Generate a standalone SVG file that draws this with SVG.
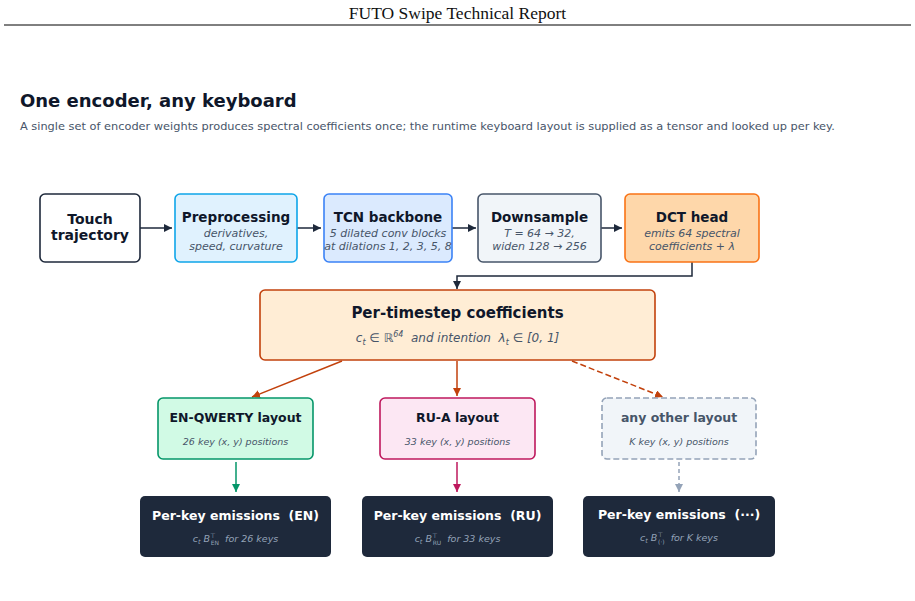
<svg xmlns="http://www.w3.org/2000/svg" width="915" height="601" viewBox="0 0 915 601">
<style>
  .hdr{font-family:"Liberation Serif","DejaVu Serif",serif;font-size:17.5px;fill:#111;}
  .ttl{font-family:"DejaVu Sans",sans-serif;font-weight:bold;font-size:18px;fill:#0f172a;}
  .sub{font-family:"DejaVu Sans",sans-serif;font-size:11.35px;fill:#475569;}
  .nt{font-family:"DejaVu Sans",sans-serif;font-weight:bold;font-size:13.5px;fill:#0f172a;text-anchor:middle;}
  .ns{font-family:"DejaVu Sans",sans-serif;font-style:italic;font-size:11px;fill:#475569;text-anchor:middle;}
  .lt{font-family:"DejaVu Sans",sans-serif;font-weight:bold;font-size:12.5px;fill:#0f172a;text-anchor:middle;}
  .ls{font-family:"DejaVu Sans",sans-serif;font-style:italic;font-size:9.5px;fill:#475569;text-anchor:middle;}
  .et{font-family:"DejaVu Sans",sans-serif;font-weight:bold;font-size:12.5px;fill:#ffffff;text-anchor:middle;white-space:pre;}
  .es{font-family:"DejaVu Sans",sans-serif;font-style:italic;font-size:9.5px;fill:#94a3b8;text-anchor:middle;white-space:pre;}
  .box{stroke-width:1.6;}
  .c{fill:none;stroke-width:1.5;}
</style>
<defs>
  <marker id="ad" markerUnits="userSpaceOnUse" markerWidth="10" markerHeight="10" refX="8" refY="4" orient="auto"><path d="M0,0 L8,4 L0,8 z" fill="#1e293b"/></marker>
  <marker id="ao" markerUnits="userSpaceOnUse" markerWidth="10" markerHeight="10" refX="8" refY="4" orient="auto"><path d="M0,0 L8,4 L0,8 z" fill="#c2410c"/></marker>
  <marker id="ag" markerUnits="userSpaceOnUse" markerWidth="10" markerHeight="10" refX="8" refY="4" orient="auto"><path d="M0,0 L8,4 L0,8 z" fill="#059669"/></marker>
  <marker id="ap" markerUnits="userSpaceOnUse" markerWidth="10" markerHeight="10" refX="8" refY="4" orient="auto"><path d="M0,0 L8,4 L0,8 z" fill="#be185d"/></marker>
  <marker id="ay" markerUnits="userSpaceOnUse" markerWidth="10" markerHeight="10" refX="8" refY="4" orient="auto"><path d="M0,0 L8,4 L0,8 z" fill="#94a3b8"/></marker>
</defs>
<rect width="915" height="601" fill="#ffffff"/>
<text class="hdr" x="457.5" y="19" text-anchor="middle">FUTO Swipe Technical Report</text>
<line x1="4" y1="25" x2="911" y2="25" stroke="#000" stroke-width="1"/>
<text class="ttl" x="20" y="107">One encoder, any keyboard</text>
<text class="sub" x="20" y="130">A single set of encoder weights produces spectral coefficients once; the runtime keyboard layout is supplied as a tensor and looked up per key.</text>

<g id="connectors">
  <line class="c" x1="140" y1="228" x2="172" y2="228" stroke="#1e293b" marker-end="url(#ad)"/>
  <line class="c" x1="297" y1="228" x2="321" y2="228" stroke="#1e293b" marker-end="url(#ad)"/>
  <line class="c" x1="452" y1="228" x2="476" y2="228" stroke="#1e293b" marker-end="url(#ad)"/>
  <line class="c" x1="601" y1="228" x2="622" y2="228" stroke="#1e293b" marker-end="url(#ad)"/>
  <polyline class="c" points="692,262 692,276 457,276 457,289" stroke="#1e293b" marker-end="url(#ad)"/>
  <line class="c" x1="342" y1="361" x2="252" y2="397" stroke="#c2410c" marker-end="url(#ao)"/>
  <line class="c" x1="457" y1="361" x2="457" y2="396" stroke="#c2410c" marker-end="url(#ao)"/>
  <line class="c" x1="572" y1="361" x2="663" y2="397" stroke="#c2410c" stroke-dasharray="6,3" marker-end="url(#ao)"/>
  <line class="c" x1="236" y1="462" x2="236" y2="492" stroke="#059669" marker-end="url(#ag)"/>
  <line class="c" x1="457" y1="462" x2="457" y2="492" stroke="#be185d" marker-end="url(#ap)"/>
  <line class="c" x1="679" y1="462" x2="679" y2="492" stroke="#94a3b8" stroke-dasharray="4,3" marker-end="url(#ay)"/>
</g>

<g id="touch">
  <rect class="box" x="40" y="194" width="100" height="68" rx="5" fill="#ffffff" stroke="#1e293b"/>
  <text class="nt" x="90" y="224" style="font-size:14px">Touch</text>
  <text class="nt" x="90" y="240" style="font-size:14px">trajectory</text>
</g>
<g id="preprocessing">
  <rect class="box" x="175" y="194" width="122" height="68" rx="5" fill="#e0f2fe" stroke="#0ea5e9"/>
  <text class="nt" x="236" y="222">Preprocessing</text>
  <text class="ns" x="236" y="237">derivatives,</text>
  <text class="ns" x="236" y="250">speed, curvature</text>
</g>
<g id="tcn">
  <rect class="box" x="324" y="194" width="128" height="68" rx="5" fill="#dbeafe" stroke="#3b82f6"/>
  <text class="nt" x="388" y="222">TCN backbone</text>
  <text class="ns" x="388" y="237">5 dilated conv blocks</text>
  <text class="ns" x="388" y="250">at dilations 1, 2, 3, 5, 8</text>
</g>
<g id="downsample">
  <rect class="box" x="478" y="194" width="123" height="68" rx="5" fill="#f1f5f9" stroke="#475569"/>
  <text class="nt" x="539.5" y="222">Downsample</text>
  <text class="ns" x="539.5" y="237">T = 64 → 32,</text>
  <text class="ns" x="539.5" y="250">widen 128 → 256</text>
</g>
<g id="dct">
  <rect class="box" x="625" y="194" width="134" height="68" rx="5" fill="#fed7aa" stroke="#f97316"/>
  <text class="nt" x="692" y="222">DCT head</text>
  <text class="ns" x="692" y="237">emits 64 spectral</text>
  <text class="ns" x="692" y="250">coefficients + λ</text>
</g>
<g id="coeffs">
  <rect class="box" x="260" y="290" width="395" height="70" rx="5" fill="#ffedd5" stroke="#c2410c"/>
  <text class="nt" x="457.5" y="318" style="font-size:15px">Per-timestep coefficients</text>
  <text class="ns" x="457.5" y="342" style="font-size:12px;white-space:pre">c<tspan style="font-size:8px" dy="3">t</tspan><tspan dy="-3" style="font-style:normal"> ∈ ℝ</tspan><tspan style="font-size:8px" dy="-5">64</tspan><tspan dy="5">  and intention  λ</tspan><tspan style="font-size:8px" dy="3">t</tspan><tspan dy="-3" style="font-style:normal"> ∈</tspan> [0, 1]</text>
</g>
<g id="en-layout">
  <rect class="box" x="158" y="398" width="155" height="61" rx="5" fill="#d1fae5" stroke="#059669"/>
  <text class="lt" x="235.5" y="422">EN-QWERTY layout</text>
  <text class="ls" x="235.5" y="445">26 key (x, y) positions</text>
</g>
<g id="ru-layout">
  <rect class="box" x="380" y="398" width="155" height="61" rx="5" fill="#fce7f3" stroke="#be185d"/>
  <text class="lt" x="457.5" y="422">RU-A layout</text>
  <text class="ls" x="457.5" y="445">33 key (x, y) positions</text>
</g>
<g id="other-layout">
  <rect class="box" x="602" y="398" width="154" height="61" rx="5" fill="#f1f5f9" stroke="#94a3b8" stroke-dasharray="6,3"/>
  <text class="lt" x="679" y="422" style="fill:#475569">any other layout</text>
  <text class="ls" x="679" y="445">K key (x, y) positions</text>
</g>
<g id="en-emit">
  <rect x="140" y="496" width="191" height="61" rx="5" fill="#1e293b"/>
  <text class="et" x="235.5" y="520">Per-key emissions  (EN)</text>
  <text class="es" x="235.5" y="542">c<tspan style="font-size:6.5px" dy="2">t</tspan><tspan dy="-2"> B</tspan><tspan style="font-size:6.5px;font-style:normal" dy="-4">⊤</tspan><tspan style="font-size:6px;font-style:normal" dx="-5" dy="7">EN</tspan><tspan dy="-3">  for 26 keys</tspan></text>
</g>
<g id="ru-emit">
  <rect x="362" y="496" width="191" height="61" rx="5" fill="#1e293b"/>
  <text class="et" x="457.5" y="520">Per-key emissions  (RU)</text>
  <text class="es" x="457.5" y="542">c<tspan style="font-size:6.5px" dy="2">t</tspan><tspan dy="-2"> B</tspan><tspan style="font-size:6.5px;font-style:normal" dy="-4">⊤</tspan><tspan style="font-size:6px;font-style:normal" dx="-5" dy="7">RU</tspan><tspan dy="-3">  for 33 keys</tspan></text>
</g>
<g id="other-emit">
  <rect x="583" y="496" width="192" height="61" rx="5" fill="#1e293b"/>
  <text class="et" x="679" y="519">Per-key emissions  (···)</text>
  <text class="es" x="679" y="541">c<tspan style="font-size:6.5px" dy="2">t</tspan><tspan dy="-2"> B</tspan><tspan style="font-size:6.5px;font-style:normal" dy="-4">⊤</tspan><tspan style="font-size:6px;font-style:normal" dx="-5" dy="7">(·)</tspan><tspan dy="-3">  for K keys</tspan></text>
</g>
</svg>
